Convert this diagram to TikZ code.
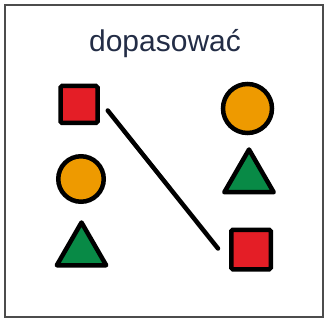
\documentclass[tikz,border=0pt]{standalone}
\usepackage{fontspec}
\setmainfont{Liberation Sans}
\usetikzlibrary{shapes.geometric}
\definecolor{sqred}{RGB}{228,30,38}
\definecolor{dotorange}{RGB}{238,154,0}
\definecolor{trigreen}{RGB}{8,138,70}
\definecolor{titleblue}{RGB}{35,45,70}

\begin{document}
\begin{tikzpicture}[x=1pt, y=-1pt, line width=4.5pt,
    square/.style={draw, fill=sqred, rectangle, rounded corners=1.5pt, inner sep=0pt, minimum size=38pt},
    dot/.style={draw, fill=dotorange, circle, inner sep=0pt, minimum size=47pt},
    tri/.style={draw, fill=trigreen, regular polygon, regular polygon sides=3, line join=round, inner sep=0pt, minimum size=57pt}]
        % Frame
        \useasboundingbox (0,0) rectangle (326,320);
        \draw[line width=2pt, gray!60!black] (5,5) rectangle (323,317);

        % Title
        \node[titleblue, font=\fontsize{30}{30}\selectfont] (title) at (165,44) {dopasować};

        % Left column
        \node[square, minimum size=37pt] (sqA) at (79,104.5) {};
        \node[dot, minimum size=45.5pt] (dotA) at (81,179) {};
        \node[tri] (triA) at (81.5,251) {};

        % Right column
        \node[dot, minimum size=49pt] (dotB) at (247.5,108.5) {};
        \node[tri] (triB) at (249,178) {};
        \node[square, minimum size=39.5pt] (sqB) at (251,249.5) {};

        % Match
        \draw[line cap=round] ([shift={(8,6)}]sqA.east) -- ([shift={(-11,-1)}]sqB.west);
\end{tikzpicture}
\end{document}
